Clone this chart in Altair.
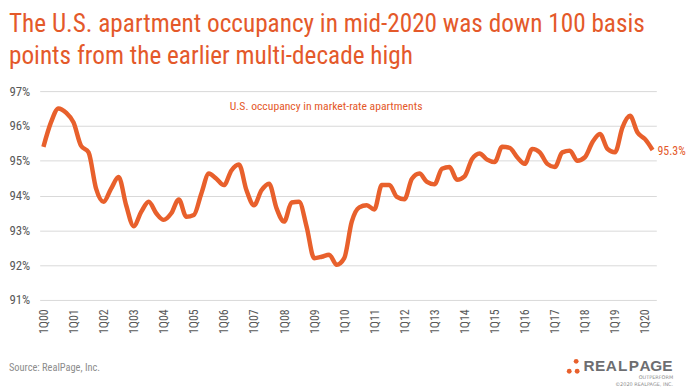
import altair as alt
import pandas as pd

# ---- data ----
years = ["00", "01", "02", "03", "04", "05", "06", "07", "08", "09", "10",
         "11", "12", "13", "14", "15", "16", "17", "18", "19", "20"]
quarters = [f"{q}Q{y}" for y in years for q in (1, 2, 3, 4)][:82]
tick_labels = [f"1Q{y}" for y in years]
y_ticks = [91, 92, 93, 94, 95, 96, 97]
occupancy = [
    95.4, 96.1, 96.5, 96.38, 96.1, 95.43, 95.24, 94.2, 93.82, 94.2, 94.53, 93.72, 93.12, 93.53,
    93.82, 93.49, 93.3, 93.49, 93.89, 93.39, 93.44, 94.06, 94.63, 94.48, 94.3, 94.72, 94.89, 94.15, 93.72,
    94.15, 94.34, 93.63, 93.25, 93.8, 93.82, 93.1, 92.2, 92.24, 92.3, 92.01, 92.2, 93.25, 93.66,
    93.72, 93.6, 94.3, 94.3, 93.96, 93.89, 94.48, 94.63, 94.39, 94.32, 94.77, 94.82, 94.45, 94.55,
    95.05, 95.21, 95.03, 94.96, 95.4, 95.37, 95.1, 94.91, 95.34, 95.24, 94.91, 94.82, 95.24, 95.29,
    95.0, 95.1, 95.53, 95.77, 95.34, 95.24, 95.96, 96.29, 95.81, 95.62, 95.31,
]
end_label = "95.3%"
title_lines = ["The U.S. apartment occupancy in mid-2020 was down 100 basis",
               "points from the earlier multi-decade high"]
series_name = ["U.S. occupancy in market-rate apartments"]
source_text = ["Source: RealPage, Inc."]
logo_letters = list("REALPAGE")
logo_small = ["OUTPERFORM", "©2020 REALPAGE, INC."]

ORANGE = "#E8602C"
TORANGE = "#E4592A"
GRAY = "#595959"
FONT = "Liberation Sans Narrow, Arial Narrow, Roboto Condensed, Liberation Sans, sans-serif"

df = pd.DataFrame({"quarter": quarters, "occ": occupancy})

x_enc = alt.X("quarter:O", sort=quarters,
              scale=alt.Scale(type="point", padding=0.5),
              axis=alt.Axis(values=tick_labels, labelAngle=-90, title=None, domain=False,
                            ticks=False, grid=False, labelPadding=9, labelFontSize=12,
                            labelColor=GRAY, labelFont=FONT, labelOverlap=False))
y_enc = alt.Y("occ:Q", scale=alt.Scale(domain=[91, 97], nice=False, zero=False),
              axis=alt.Axis(values=y_ticks, tickCount=7,
                            labelExpr="datum.value + '%'", title=None, domain=False,
                            ticks=False, grid=True, gridColor="#D9D9D9", gridWidth=1,
                            labelPadding=10, labelFontSize=13, labelColor=GRAY, labelFont=FONT,
                            labelOverlap=False))

base = alt.Chart(df).encode(x=x_enc, y=y_enc)
line = base.mark_line(color=ORANGE, strokeWidth=4.5, interpolate="monotone")
end_txt = base.transform_filter(alt.datum.quarter == quarters[-1]).transform_calculate(
    t=f"'{end_label}'").mark_text(align="left", dx=5, dy=1, fontSize=12, color=TORANGE,
                                   font=FONT).encode(text="t:N")

def txt(lines, x, y, font=FONT, **kw):
    return alt.Chart(pd.DataFrame({"t": lines})).mark_text(font=font, **kw).encode(
        x=alt.value(x), y=alt.value(y), text="t:N")

title1 = txt([title_lines[0]], -31, -60, fontSize=25.5, color=TORANGE, align="left", baseline="alphabetic")
title2 = txt([title_lines[1]], -31, -27, fontSize=25.5, color=TORANGE, align="left", baseline="alphabetic")
series_txt = txt(series_name, 192, 15, fontSize=11.8, color=TORANGE, align="left", baseline="middle")
source = txt(source_text, -31, 280, fontSize=10.5, color="#8C8C8C", align="left", baseline="middle")

logo_df = pd.DataFrame({"px": [535, 543, 542], "py": [283, 283, 273]})
dots = alt.Chart(logo_df).mark_circle(size=24, color=ORANGE, opacity=1).encode(
    x=alt.X("px:Q", scale=None), y=alt.Y("py:Q", scale=None))
logo = alt.Chart(pd.DataFrame({"t": logo_letters})).transform_window(
    idx="row_number()").transform_calculate(
    lx="555 + (datum.idx - 1) * 11.3").mark_text(
    font="Liberation Sans, Arial, sans-serif", fontWeight="bold", fontSize=15.5, color="#6D6E71",
    align="center", baseline="middle").encode(
    x=alt.X("lx:Q", scale=None), y=alt.value(278), text="t:N")
logo_s1 = txt([logo_small[0]], 640, 289, font="DejaVu Sans", fontSize=5, color="#8C8C8C",
              align="right", baseline="middle")
logo_s2 = txt([logo_small[1]], 640, 296, font="DejaVu Sans", fontSize=5, color="#8C8C8C",
              align="right", baseline="middle")

chart = alt.layer(line, end_txt, title1, title2, series_txt, source, dots, logo, logo_s1, logo_s2
                  ).properties(
    width=623, height=211,
    autosize=alt.AutoSizeParams(type="none"),
    padding={"left": 32, "top": 82, "right": 32, "bottom": 88},
    background="white",
).configure_view(stroke=None)

chart.save("out.html", embed_options={"renderer": "svg", "actions": False})
